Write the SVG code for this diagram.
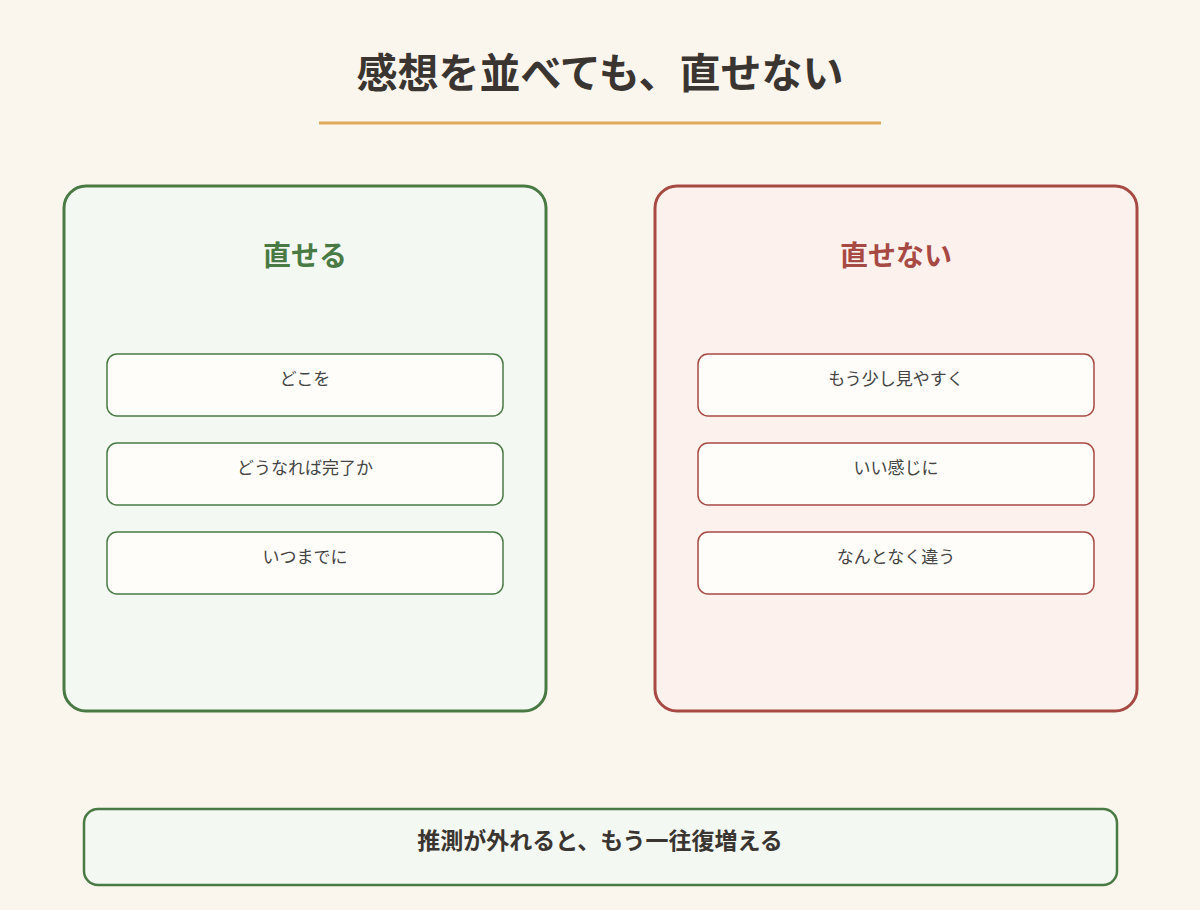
<svg xmlns="http://www.w3.org/2000/svg" width="1200" height="910" viewBox="0 0 1200 910">
<style>
text{font-family:"Noto Sans CJK JP","Noto Sans",sans-serif;text-anchor:middle}
.title{font-size:41px;font-weight:700;fill:#3a3530}
.ph{font-size:28px;font-weight:700}
.item{font-size:17px;fill:#444}
.g{stroke:#4a7a44}
.r{stroke:#a84a44}
.panel{stroke-width:3}
.it{fill:#fffdf9;stroke-width:1.5}
</style>
<rect width="1200" height="910" fill="#faf6ee"/>
<g id="title"><text class="title" x="600" y="88">感想を並べても、直せない</text>
<line x1="319" y1="123" x2="881" y2="123" stroke="#e0a95a" stroke-width="3"/></g>
<g id="panel-left"><rect class="panel g" x="64" y="186" width="482" height="525" rx="22" fill="#f3f8f2"/>
<text class="ph" x="305" y="266" fill="#4a7a44">直せる</text></g>
<g id="panel-right"><rect class="panel r" x="655" y="186" width="482" height="525" rx="22" fill="#fdf1ee"/>
<text class="ph" x="896" y="266" fill="#a84a44">直せない</text></g>
<g id="l1"><rect class="it g" x="107" y="354" width="396" height="62" rx="10"/><text class="item" x="305" y="385">どこを</text></g>
<g id="l2"><rect class="it g" x="107" y="443" width="396" height="62" rx="10"/><text class="item" x="305" y="474">どうなれば完了か</text></g>
<g id="l3"><rect class="it g" x="107" y="532" width="396" height="62" rx="10"/><text class="item" x="305" y="563">いつまでに</text></g>
<g id="r1"><rect class="it r" x="698" y="354" width="396" height="62" rx="10"/><text class="item" x="896" y="385">もう少し見やすく</text></g>
<g id="r2"><rect class="it r" x="698" y="443" width="396" height="62" rx="10"/><text class="item" x="896" y="474">いい感じに</text></g>
<g id="r3"><rect class="it r" x="698" y="532" width="396" height="62" rx="10"/><text class="item" x="896" y="563">なんとなく違う</text></g>
<g id="bottom"><rect x="84" y="809" width="1033" height="76" rx="14" fill="#f3f8f2" stroke="#4a7a44" stroke-width="2.5"/>
<text x="600" y="849" font-size="23" font-weight="700" fill="#3a3530">推測が外れると、もう一往復増える</text></g>
<g id="connectors"/>
</svg>
